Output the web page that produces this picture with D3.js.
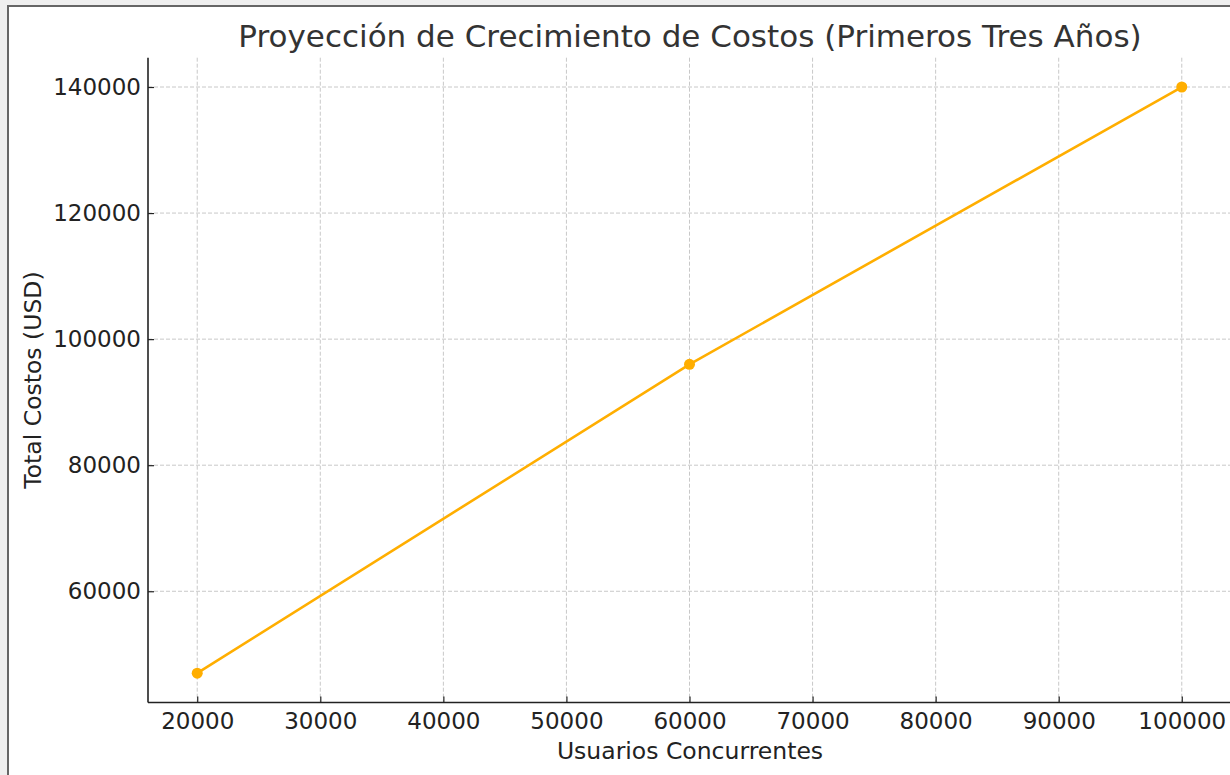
<!DOCTYPE html>
<html><head><meta charset="utf-8">
<script src="https://cdn.jsdelivr.net/npm/d3@7"></script>
<style>
html,body{margin:0;padding:0;background:#efefef;}
svg{display:block;}
text{font-family:"DejaVu Sans",sans-serif;}
</style></head>
<body>
<svg id="c" width="1230" height="775"></svg>
<script>
const usuarios = [20000, 60000, 100000];
const costos = [47000, 96000, 140000];
const xTicks = [20000, 30000, 40000, 50000, 60000, 70000, 80000, 90000, 100000];
const yTicks = [60000, 80000, 100000, 120000, 140000];
const title = "Proyección de Crecimiento de Costos (Primeros Tres Años)";
const xLabel = "Usuarios Concurrentes";
const yLabel = "Total Costos (USD)";

const svg = d3.select("#c");
// panel
svg.append("rect").attr("x",8).attr("y",6).attr("width",1240).attr("height",800)
  .attr("fill","#fff").attr("stroke","#666").attr("stroke-width",2);

const L=148, R=1231, T=57.7, B=702.5;
const x = d3.scaleLinear().domain([16000,104000]).range([L,R]);
const y = d3.scaleLinear().domain([42350,144650]).range([B,T]);

// grid
const g = svg.append("g");
g.selectAll("line.vx").data(xTicks).join("line")
  .attr("x1",d=>x(d)).attr("x2",d=>x(d)).attr("y1",T).attr("y2",B)
  .attr("stroke","#c8c8c8").attr("stroke-width",1).attr("stroke-dasharray","4,2");
g.selectAll("line.hy").data(yTicks).join("line")
  .attr("y1",d=>y(d)).attr("y2",d=>y(d)).attr("x1",L).attr("x2",R)
  .attr("stroke","#c8c8c8").attr("stroke-width",1).attr("stroke-dasharray","4,2");

// axes (ticks point inward)
const xa = svg.append("g").attr("transform",`translate(0,${B})`)
  .call(d3.axisBottom(x).tickValues(xTicks).tickFormat(d3.format("d")).tickSize(-6).tickPadding(10));
const ya = svg.append("g").attr("transform",`translate(${L},0)`)
  .call(d3.axisLeft(y).tickValues(yTicks).tickFormat(d3.format("d")).tickSize(-6).tickPadding(7));
[xa,ya].forEach(a=>{
  a.attr("font-family","DejaVu Sans").attr("font-size",23);
  a.select(".domain").attr("stroke","#222").attr("stroke-width",1.6);
  a.selectAll(".tick line").attr("stroke","#222").attr("stroke-width",1.2);
  a.selectAll("text").attr("fill","#222");
});
xa.select(".domain").attr("d",`M${L},0H${R}`);
ya.select(".domain").attr("d",`M0,${T}V${B}`);

// line
const line = d3.line().x((d,i)=>x(usuarios[i])).y(d=>y(d));
svg.append("path").datum(costos).attr("d",line).attr("fill","none")
  .attr("stroke","#ffae00").attr("stroke-width",2.6);
svg.selectAll("circle.p").data(costos).join("circle")
  .attr("cx",(d,i)=>x(usuarios[i])).attr("cy",d=>y(d)).attr("r",5.5).attr("fill","#ffae00");

// labels
svg.append("text").attr("x",690).attr("y",47).attr("text-anchor","middle")
  .attr("font-size",31).attr("fill","#333").text(title);
svg.append("text").attr("x",690).attr("y",759).attr("text-anchor","middle")
  .attr("font-size",23.5).attr("fill","#222").text(xLabel);
svg.append("text").attr("transform","translate(41,380) rotate(-90)").attr("text-anchor","middle")
  .attr("font-size",23.5).attr("fill","#222").text(yLabel);
</script>
</body></html>
